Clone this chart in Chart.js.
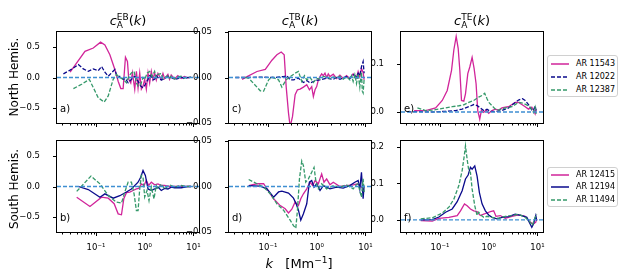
<!DOCTYPE html>
<html>
<head>
<meta charset="utf-8">
<script src="https://cdn.jsdelivr.net/npm/chart.js@4"></script>
<style>
  body { margin: 0; background: #fff; width: 624px; height: 277px; overflow: hidden; position: relative; font-family: 'DejaVu Sans'; color: #000; }
  canvas { position: absolute; }
  .ttl { position: absolute; width: 142px; text-align: center; font: 13px/13px 'DejaVu Sans'; white-space: nowrap; }
  .ss { display: inline-block; font-size: 9px; line-height: 8px; vertical-align: -3px; text-align: left; font-style: normal; }
  .rl { position: absolute; font: 12px/12px 'DejaVu Sans'; transform: translate(-50%, -50%) rotate(-90deg); white-space: nowrap; }
  .xl { position: absolute; width: 200px; text-align: center; font: 13px/13px 'DejaVu Sans'; white-space: nowrap; }
  .xl sup { font-size: 9px; line-height: 0; vertical-align: 5px; }
  .pl { position: absolute; font: 10px/10px 'DejaVu Sans'; }
  .lg { position: absolute; width: 71px; box-sizing: border-box; border: 1px solid #d0d0d0; border-radius: 3px; background: #fff; }
  .it { position: absolute; left: 2px; height: 10px; font: 8px/10px 'DejaVu Sans'; white-space: nowrap; }
  .it svg { position: absolute; left: 0; top: 3px; }
  .it span { position: absolute; left: 26px; top: 0; }
</style>
</head>
<body>
<script>
// k range shared by all panels
const kMin = 0.0159, kMax = 13;
const xTickVals = [0.1, 1, 10];
const xTickLabels = ['10\u207B\u00B9', '10\u2070', '10\u00B9'];

// north hemisphere: AR 11543, AR 12022, AR 12387  ([k, value])
const ebN11543 = [[0.0295,0.086],[0.0596,0.425],[0.0882,0.48],[0.1245,0.575],[0.1527,0.53],[0.1931,0.37],[0.2443,0.13],[0.2856,-0.06],[0.3238,-0.18],[0.3613,-0.18],[0.4031,0.33],[0.4428,0.26],[0.4716,-0.03],[0.5179,-0.09],[0.5601,0.075],[0.6251,-0.19],[0.676,0.10],[0.731,-0.17],[0.7906,0.075],[0.855,-0.19],[0.9247,-0.14],[1.0,-0.03],[1.081,-0.19],[1.17,0.075],[1.265,-0.09],[1.368,0.10],[1.479,-0.03],[1.6,0.075],[1.73,-0.04],[1.871,0.065],[2.188,-0.03],[2.37,0.065],[2.56,-0.02],[2.994,0.05],[3.237,-0.03],[3.501,0.04],[4.095,-0.025],[4.789,0.03],[5.601,-0.015],[6.551,0.015],[7.662,-0.005],[8.962,0.01]];
const ebN12022 = [[0.0215,0.06],[0.0295,0.12],[0.0436,0.21],[0.0551,0.14],[0.0697,0.10],[0.0882,0.14],[0.1116,0.11],[0.1305,0.18],[0.1527,0.086],[0.1785,0.02],[0.2088,0.075],[0.2443,0.13],[0.2768,-0.005],[0.3089,0.02],[0.3613,-0.03],[0.4031,-0.02],[0.457,-0.086],[0.5344,-0.03],[0.6251,0.02],[0.731,-0.06],[0.8286,-0.14],[0.9247,-0.167],[1.032,-0.11],[1.17,-0.03],[1.265,0.03],[1.368,0.02],[1.479,-0.04],[1.6,-0.03],[1.73,0.03],[1.871,0.0],[2.188,-0.04],[2.56,-0.02],[2.994,0.02],[3.501,0.0],[4.095,-0.03],[4.789,-0.02],[5.601,0.01],[6.551,-0.02],[7.662,0.0],[8.962,-0.005]];
const ebN12387 = [[0.0345,-0.18],[0.051,-0.11],[0.0731,-0.03],[0.1116,-0.33],[0.1479,-0.40],[0.1785,-0.30],[0.2258,-0.03],[0.2641,0.05],[0.3089,0.0],[0.3613,-0.03],[0.4224,-0.086],[0.4716,0.02],[0.5344,0.075],[0.6058,0.10],[0.676,-0.086],[0.731,-0.14],[0.8286,-0.11],[0.9247,0.0],[1.0,-0.03],[1.134,0.075],[1.265,0.10],[1.411,0.02],[1.6,0.10],[1.73,0.0],[1.871,0.05],[2.188,0.065],[2.37,-0.02],[2.56,-0.005],[2.994,0.03],[3.237,-0.01],[3.501,0.02],[4.095,-0.025],[4.789,0.01],[5.601,0.02],[6.551,-0.01],[7.662,0.0],[8.962,0.005]];

const tbN11543 = [[0.0295,-0.002],[0.0373,0.001],[0.0596,0.0066],[0.0882,0.009],[0.1207,0.019],[0.1527,0.025],[0.1871,0.028],[0.2154,0.025],[0.2366,-0.01],[0.2641,-0.039],[0.2856,-0.054],[0.3188,-0.043],[0.3613,-0.019],[0.4031,-0.0135],[0.457,-0.0128],[0.5344,-0.0106],[0.6251,-0.008],[0.7085,-0.0135],[0.7906,-0.01],[0.855,-0.021],[0.9247,-0.0135],[1.0,-0.01],[1.081,-0.0026],[1.17,0.001],[1.265,0.004],[1.368,0.002],[1.479,0.0047],[1.6,0.0],[1.73,0.004],[1.871,0.001],[2.188,0.0036],[2.56,-0.001],[2.994,0.0026],[3.501,-0.001],[4.095,0.002],[4.789,-0.001],[5.601,0.004],[6.551,-0.0007],[7.085,0.0066],[7.662,0.001],[8.286,0.010],[8.962,0.0055],[9.394,-0.0026]];
const tbN12022 = [[0.0215,0.0],[0.0373,0.0],[0.0697,0.0004],[0.1305,0.0],[0.2088,0.001],[0.2443,0.002],[0.2856,-0.0026],[0.3341,-0.0026],[0.4224,-0.0007],[0.5344,-0.0055],[0.6251,-0.0033],[0.731,-0.006],[0.855,-0.0044],[1.0,-0.003],[1.17,-0.0026],[1.6,-0.0007],[2.188,-0.002],[2.56,0.0],[2.994,-0.002],[4.095,0.001],[4.789,-0.001],[5.601,0.003],[6.551,0.001],[7.085,0.0047],[7.662,0.002],[8.286,0.012],[8.962,0.0175],[9.394,0.0047]];
const tbN12387 = [[0.0345,0.0],[0.0403,-0.0007],[0.0697,-0.0146],[0.0816,-0.015],[0.1032,-0.0026],[0.1207,0.0004],[0.1651,-0.0026],[0.1931,-0.0106],[0.2366,-0.0026],[0.2856,0.001],[0.3613,0.0047],[0.4224,0.0066],[0.4941,-0.0044],[0.5601,0.002],[0.6251,-0.0026],[0.731,0.0],[0.855,-0.0055],[1.0,-0.001],[1.17,-0.0018],[1.368,0.001],[1.6,0.001],[1.871,-0.001],[2.188,0.0005],[2.56,-0.0007],[2.994,0.0013],[3.501,-0.0018],[4.095,0.0007],[4.789,-0.0026],[5.179,0.002],[5.601,-0.0044],[6.057,0.003],[6.551,-0.0066],[7.085,0.004],[7.662,-0.0106],[8.286,0.006],[8.617,-0.015],[8.962,-0.017],[9.394,-0.002]];

const teN11543 = [[0.0295,0.003],[0.051,0.003],[0.0816,0.0085],[0.1116,0.024],[0.1411,0.045],[0.1729,0.087],[0.1931,0.13],[0.2154,0.158],[0.2366,0.133],[0.256,0.087],[0.2768,0.024],[0.3089,0.0225],[0.3341,0.038],[0.3728,0.08],[0.4095,0.094],[0.457,0.114],[0.5019,0.091],[0.5514,0.059],[0.5963,0.003],[0.6552,-0.015],[0.7085,0.003],[0.7906,-0.001],[0.8822,0.004],[1.0,-0.003],[1.17,0.003],[1.368,0.006],[1.6,0.004],[1.871,0.0085],[2.188,0.01],[2.56,0.011],[2.994,0.0155],[3.501,0.02],[4.095,0.02],[4.789,0.0155],[5.601,0.011],[6.551,0.006],[7.662,0.01],[8.286,0.004],[8.962,-0.004],[9.394,0.006]];
const teN12022 = [[0.0215,0.0007],[0.0373,0.0007],[0.0697,0.0],[0.1305,0.0014],[0.2088,0.003],[0.2856,0.006],[0.3907,0.011],[0.4941,0.0155],[0.5779,0.0134],[0.676,0.0085],[0.7906,0.003],[0.9247,0.0056],[1.081,0.0014],[1.368,0.0007],[1.871,0.003],[2.56,0.0085],[3.237,0.017],[4.095,0.025],[4.941,0.0275],[5.601,0.024],[6.551,0.0155],[7.662,0.004],[8.286,0.003],[8.962,0.013],[9.394,0.003]];
const teN12387 = [[0.0345,0.0085],[0.051,0.003],[0.0697,0.004],[0.0954,0.006],[0.1305,0.0085],[0.1785,0.011],[0.2443,0.013],[0.3089,0.015],[0.3907,0.02],[0.4941,0.024],[0.6251,0.031],[0.731,0.0345],[0.8286,0.039],[0.9247,0.0275],[1.0,0.0204],[1.17,0.013],[1.368,0.006],[1.6,0.004],[2.188,0.0085],[2.994,0.011],[4.095,0.02],[5.179,0.018],[6.551,0.013],[7.662,0.006],[8.286,-0.001],[8.962,0.01],[9.394,-0.004]];

// south hemisphere: AR 12415, AR 12194, AR 11494
const ebS12415 = [[0.0403,-0.174],[0.0754,-0.326],[0.1305,-0.174],[0.1785,-0.19],[0.2366,-0.28],[0.2856,-0.445],[0.3341,-0.46],[0.3728,-0.2],[0.4224,-0.1],[0.4941,-0.09],[0.5779,-0.065],[0.676,-0.04],[0.7543,-0.03],[0.855,0.043],[0.9692,0.016],[1.081,0.1],[1.207,0.016],[1.368,0.07],[1.6,0.027],[1.871,0.043],[2.188,0.016],[2.56,0.016],[3.237,0.0],[4.095,0.0],[5.601,0.005],[7.662,0.0],[8.962,0.0]];
const ebS12194 = [[0.0436,0.0],[0.0697,-0.05],[0.1207,-0.174],[0.1527,-0.12],[0.2258,-0.19],[0.3089,-0.15],[0.4224,-0.09],[0.5344,-0.04],[0.731,0.07],[0.8286,0.15],[0.9247,0.26],[1.032,0.18],[1.17,-0.04],[1.368,-0.065],[1.6,-0.04],[1.871,-0.01],[2.188,-0.065],[2.56,-0.03],[2.994,-0.04],[3.501,-0.01],[4.095,-0.02],[5.601,-0.02],[7.662,0.0],[8.962,0.0]];
const ebS11494 = [[0.0403,-0.08],[0.0791,0.17],[0.1207,0.043],[0.1785,-0.147],[0.2641,-0.255],[0.3341,-0.27],[0.3907,-0.09],[0.457,0.07],[0.5344,0.07],[0.6058,-0.12],[0.676,-0.39],[0.731,-0.39],[0.7906,-0.04],[0.855,0.18],[0.9247,0.15],[1.0,-0.17],[1.116,-0.065],[1.226,-0.23],[1.368,-0.01],[1.55,-0.2],[1.73,0.016],[1.871,-0.04],[2.188,0.043],[2.56,-0.04],[3.237,0.027],[4.095,-0.01],[5.601,0.016],[7.662,0.0],[9.394,0.005]];

const tbS12415 = [[0.0403,0.001],[0.0596,0.003],[0.0816,0.003],[0.1032,-0.0055],[0.1305,-0.0135],[0.1785,-0.021],[0.2258,-0.0245],[0.2641,-0.029],[0.3089,-0.025],[0.3613,-0.017],[0.4224,-0.021],[0.4716,-0.0135],[0.5344,-0.008],[0.6251,-0.0026],[0.731,0.0047],[0.8286,0.001],[0.9247,0.0066],[1.081,0.003],[1.265,0.0139],[1.411,0.0047],[1.6,0.0084],[1.871,0.002],[2.188,0.0047],[2.994,0.0],[4.095,0.001],[5.601,0.0018],[7.085,0.003],[8.286,-0.0007],[9.394,0.001]];
const tbS12194 = [[0.0403,0.001],[0.0697,0.0004],[0.0954,-0.0026],[0.1305,-0.0117],[0.1651,-0.006],[0.1931,-0.0051],[0.2641,-0.0073],[0.3341,-0.0128],[0.3787,-0.019],[0.4224,-0.026],[0.4716,-0.037],[0.5344,-0.03],[0.6251,-0.019],[0.7085,0.0047],[0.7906,0.0066],[0.8822,-0.0007],[1.0,0.003],[1.17,-0.0044],[1.368,0.001],[1.6,-0.0007],[1.871,-0.0026],[2.56,-0.0007],[3.501,-0.0018],[4.789,0.001],[6.057,0.0047],[7.085,0.0066],[7.662,-0.003],[8.286,0.0157],[8.962,-0.0135],[9.394,0.001]];
const tbS11494 = [[0.0403,0.0077],[0.0596,0.003],[0.0816,-0.0007],[0.1116,-0.008],[0.1527,-0.019],[0.2088,-0.026],[0.2856,-0.037],[0.3341,-0.043],[0.3728,-0.046],[0.4031,-0.026],[0.4428,0.0084],[0.4941,0.028],[0.5344,0.023],[0.5963,0.0047],[0.676,0.0084],[0.7906,0.0157],[0.8822,0.021],[0.9692,0.0047],[1.081,-0.0026],[1.265,0.003],[1.6,-0.0026],[2.188,0.001],[2.994,-0.0007],[4.095,0.0018],[5.601,-0.0026],[6.551,0.002],[7.085,0.003],[7.662,-0.005],[8.286,-0.0117],[8.962,0.0084],[9.394,-0.006]];

const teS12415 = [[0.0403,-0.002],[0.0697,-0.003],[0.0954,0.0045],[0.1527,0.007],[0.2258,0.012],[0.2641,0.025],[0.3188,0.044],[0.3613,0.039],[0.4224,0.03],[0.4941,0.025],[0.5779,0.0227],[0.676,0.012],[0.7906,0.016],[0.9247,0.019],[1.081,0.023],[1.265,0.025],[1.411,0.01],[1.73,0.012],[2.188,0.0045],[2.994,0.01],[4.095,0.0136],[5.601,0.01],[7.085,-0.006],[8.286,-0.011],[9.247,-0.006],[9.692,0.003]];
const teS12194 = [[0.0403,0.0],[0.0697,0.001],[0.0954,0.008],[0.1305,0.021],[0.1785,0.03],[0.2258,0.05],[0.2856,0.08],[0.3341,0.112],[0.3787,0.123],[0.4224,0.144],[0.457,0.139],[0.5179,0.148],[0.5779,0.12],[0.645,0.075],[0.731,0.044],[0.855,0.025],[1.0,0.0136],[1.17,0.007],[1.479,0.003],[1.871,0.007],[2.56,0.009],[3.501,0.016],[4.789,0.012],[6.057,0.007],[7.085,-0.011],[7.662,-0.02],[8.286,-0.011],[9.247,0.012],[9.692,-0.002]];
const teS11494 = [[0.0403,0.003],[0.0697,0.006],[0.1116,0.019],[0.1527,0.035],[0.1931,0.057],[0.2443,0.094],[0.2856,0.135],[0.3188,0.18],[0.3341,0.203],[0.3613,0.166],[0.3907,0.135],[0.4224,0.13],[0.457,0.085],[0.5179,0.039],[0.5779,0.012],[0.6251,0.021],[0.7085,0.012],[0.7906,0.007],[0.9247,0.01],[1.17,0.007],[1.6,0.0045],[2.188,0.01],[2.994,0.012],[4.095,0.016],[5.601,0.007],[7.085,-0.006],[7.906,-0.015],[8.962,0.007],[9.692,0.016]];

const MAGENTA = '#d1259a', NAVY = '#0a0a8c', GREEN = '#35996a', ZERO = '#3f8fd2';

Chart.defaults.font.family = 'DejaVu Sans';
Chart.defaults.font.size = 8.5;
Chart.defaults.color = '#000';

// frame + tick marks, matplotlib style
const axesBox = {
    id: 'axesBox',
    afterDraw(chart) {
        const {ctx, chartArea: a, scales} = chart;
        ctx.save();
        ctx.strokeStyle = '#000';
        ctx.lineWidth = 1;
        ctx.beginPath();
        for (let e = -2; e <= 1; e++) {
            for (let m = 1; m <= 9; m++) {
                const v = m * Math.pow(10, e);
                if (v < kMin || v > kMax) continue;
                const px = Math.round(scales.x.getPixelForValue(v)) + 0.5;
                ctx.moveTo(px, a.bottom);
                ctx.lineTo(px, a.bottom + (m === 1 ? 4 : 2.5));
            }
        }
        scales.y.ticks.forEach(function (t) {
            const py = Math.round(scales.y.getPixelForValue(t.value)) + 0.5;
            ctx.moveTo(a.left, py);
            ctx.lineTo(a.left - 4, py);
        });
        ctx.stroke();
        ctx.strokeRect(a.left - 0.5, a.top - 0.5, a.right - a.left + 1, a.bottom - a.top + 1);
        ctx.restore();
    }
};

function pts(arr) {
    return arr.map(function (p) { return {x: p[0], y: p[1]}; });
}

function line(arr, color, dashed) {
    return {
        data: pts(arr),
        borderColor: color,
        borderWidth: 1.3,
        borderDash: dashed ? [4, 1.8] : [],
        pointRadius: 0,
        tension: 0,
        fill: false
    };
}

// the y scale asks for (half label + padding) room above the plot, so keep 16px there
const PAD_TOP = 16;

function panel(left, top, sets, yMin, yMax, yTicks, yLabels, showX) {
    const cv = document.createElement('canvas');
    cv.width = 199; cv.height = PAD_TOP + 91 + 25;
    cv.style.left = (left - 45) + 'px';
    cv.style.top = (top - PAD_TOP) + 'px';
    cv.style.width = '199px'; cv.style.height = cv.height + 'px';
    document.body.appendChild(cv);

    const zero = {
        data: [{x: kMin, y: 0}, {x: kMax, y: 0}],
        borderColor: ZERO, borderWidth: 1.3, borderDash: [4, 2],
        pointRadius: 0, fill: false
    };

    new Chart(cv, {
        type: 'line',
        data: {datasets: [zero].concat(sets)},
        options: {
            responsive: false,
            animation: false,
            devicePixelRatio: 1,
            layout: {autoPadding: false, padding: {left: 0, top: PAD_TOP, right: 12, bottom: 0}},
            plugins: {legend: {display: false}, tooltip: {enabled: false}},
            scales: {
                x: {
                    type: 'logarithmic',
                    min: kMin, max: kMax,
                    grid: {display: false},
                    border: {display: false},
                    afterBuildTicks: function (s) { s.ticks = xTickVals.map(function (v) { return {value: v}; }); },
                    afterFit: function (s) { s.height = 25; },
                    ticks: {
                        display: showX,
                        autoSkip: false,
                        maxRotation: 0,
                        padding: 3,
                        callback: function (v, i) { return xTickLabels[i]; }
                    }
                },
                y: {
                    min: yMin, max: yMax,
                    grid: {display: false},
                    border: {display: false},
                    afterBuildTicks: function (s) { s.ticks = yTicks.map(function (v) { return {value: v}; }); },
                    afterFit: function (s) { s.width = 45; },
                    ticks: {
                        padding: 9,
                        callback: function (v, i) { return yLabels[i]; }
                    }
                }
            }
        },
        plugins: [axesBox]
    });
}

const ebTicks = [-0.5, 0, 0.5], ebLabels = ['\u22120.5', '0.0', '0.5'];
const tbTicks = [-0.05, 0, 0.05], tbLabels = ['\u22120.05', '0.00', '0.05'];
const teNTicks = [0, 0.1], teNLabels = ['0.0', '0.1'];
const teSTicks = [0, 0.1, 0.2], teSLabels = ['0.0', '0.1', '0.2'];

// top row
panel(57, 32, [line(ebN12387, GREEN, true), line(ebN12022, NAVY, true), line(ebN11543, MAGENTA, false)], -0.74, 0.74, ebTicks, ebLabels, false);
panel(229, 32, [line(tbN12387, GREEN, true), line(tbN12022, NAVY, true), line(tbN11543, MAGENTA, false)], -0.05, 0.05, tbTicks, tbLabels, false);
panel(401, 32, [line(teN12387, GREEN, true), line(teN12022, NAVY, true), line(teN11543, MAGENTA, false)], -0.023, 0.167, teNTicks, teNLabels, false);
// bottom row
panel(57, 141, [line(ebS11494, GREEN, true), line(ebS12194, NAVY, false), line(ebS12415, MAGENTA, false)], -0.74, 0.74, ebTicks, ebLabels, true);
panel(229, 141, [line(tbS11494, GREEN, true), line(tbS12194, NAVY, false), line(tbS12415, MAGENTA, false)], -0.05, 0.05, tbTicks, tbLabels, true);
panel(401, 141, [line(teS11494, GREEN, true), line(teS12194, NAVY, false), line(teS12415, MAGENTA, false)], -0.033, 0.216, teSTicks, teSLabels, true);
</script>

<div class="ttl" style="left:57px;top:13px"><i>c</i><span class="ss">EB<br>A</span>(<i>k</i>)</div>
<div class="ttl" style="left:229px;top:13px"><i>c</i><span class="ss">TB<br>A</span>(<i>k</i>)</div>
<div class="ttl" style="left:401px;top:13px"><i>c</i><span class="ss">TE<br>A</span>(<i>k</i>)</div>

<div class="rl" style="left:14px;top:77px">North Hemis.</div>
<div class="rl" style="left:14px;top:189px">South Hemis.</div>

<div class="xl" style="left:199px;top:257px"><i>k</i>&nbsp;&nbsp;&nbsp;[Mm<sup>&minus;1</sup>]</div>

<div class="pl" style="left:60px;top:104px">a)</div>
<div class="pl" style="left:60px;top:213px">b)</div>
<div class="pl" style="left:232px;top:104px">c)</div>
<div class="pl" style="left:232px;top:213px">d)</div>
<div class="pl" style="left:404px;top:104px">e)</div>
<div class="pl" style="left:404px;top:213px">f)</div>

<div class="lg" style="left:547px;top:55px;height:42px">
  <div class="it" style="top:3px"><svg width="20" height="4"><line x1="1" y1="2" x2="19" y2="2" stroke="#d1259a" stroke-width="1.5"/></svg><span>AR 11543</span></div>
  <div class="it" style="top:16px"><svg width="20" height="4"><line x1="1" y1="2" x2="19" y2="2" stroke="#0a0a8c" stroke-width="1.5" stroke-dasharray="4,2"/></svg><span>AR 12022</span></div>
  <div class="it" style="top:29px"><svg width="20" height="4"><line x1="1" y1="2" x2="19" y2="2" stroke="#35996a" stroke-width="1.5" stroke-dasharray="4,2"/></svg><span>AR 12387</span></div>
</div>
<div class="lg" style="left:547px;top:167px;height:40px">
  <div class="it" style="top:2px"><svg width="20" height="4"><line x1="1" y1="2" x2="19" y2="2" stroke="#d1259a" stroke-width="1.5"/></svg><span>AR 12415</span></div>
  <div class="it" style="top:14px"><svg width="20" height="4"><line x1="1" y1="2" x2="19" y2="2" stroke="#0a0a8c" stroke-width="1.5"/></svg><span>AR 12194</span></div>
  <div class="it" style="top:27px"><svg width="20" height="4"><line x1="1" y1="2" x2="19" y2="2" stroke="#35996a" stroke-width="1.5" stroke-dasharray="4,2"/></svg><span>AR 11494</span></div>
</div>
</body>
</html>
